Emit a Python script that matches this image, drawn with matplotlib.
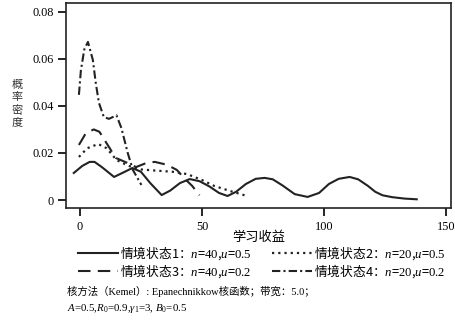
import matplotlib

matplotlib.use("Agg")
import matplotlib.pyplot as plt

plt.rcParams["font.family"] = ["Liberation Serif", "Noto Sans CJK SC"]
# mathtext: serif digits and Times-like italic variables
plt.rcParams["mathtext.fontset"] = "custom"
plt.rcParams["mathtext.rm"] = "Liberation Serif"
plt.rcParams["mathtext.it"] = "Liberation Serif:italic"
plt.rcParams["mathtext.bf"] = "Liberation Serif:bold"

# values (x = learning return, y = density)
s1_x = [-2.5, 1, 4, 6, 9, 14, 18, 21.5, 25, 29, 33.5, 37, 41, 45, 49, 53, 57, 60.5,
        64, 68, 72, 75.7, 79, 83, 88, 93.3, 98, 102, 106, 110.5, 114, 118, 121, 124,
        128, 133, 138]
s1_y = [0.0115, 0.0145, 0.0162, 0.0162, 0.0140, 0.0098, 0.0118, 0.0136, 0.0120,
        0.0070, 0.0021, 0.0040, 0.0072, 0.0089, 0.0080, 0.0058, 0.0030, 0.0017,
        0.0035, 0.0068, 0.0090, 0.0094, 0.0088, 0.0062, 0.0025, 0.0013, 0.0030,
        0.0068, 0.0090, 0.0098, 0.0088, 0.0060, 0.0035, 0.0020, 0.0012, 0.0006, 0.0003]

s2_x = [-0.4, 3, 7.5, 11, 15, 20, 25, 31, 38, 44, 50, 55, 61, 67.5]
s2_y = [0.0183, 0.0220, 0.0238, 0.0220, 0.0170, 0.0145, 0.0130, 0.0125, 0.0120,
        0.0110, 0.0085, 0.0060, 0.0040, 0.0020]

s3_x = [-0.4, 2.5, 5.7, 8, 10.6, 14.7, 19.6, 23, 27.4, 30.7, 35.6, 39.7, 43, 46, 49]
s3_y = [0.0234, 0.0285, 0.0300, 0.0290, 0.0247, 0.0179, 0.0157, 0.0140, 0.0158,
        0.0162, 0.0150, 0.0128, 0.0090, 0.0060, 0.0020]

s4_x = [-0.4, 0.4, 1.8, 3.3, 5.3, 6.5, 7.8, 9.8, 11.9, 15, 17, 19.6, 21.7, 25.2]
s4_y = [0.0447, 0.0550, 0.0640, 0.0672, 0.0596, 0.0498, 0.0413, 0.0353, 0.0345,
        0.0360, 0.0306, 0.0200, 0.0128, 0.0064]

state_n = ["40", "20", "40", "20"]
state_u = ["0.5", "0.5", "0.2", "0.2"]
labels = [
    f"情境状态{i + 1}：$n$=$\\mathrm{{{n}}}$,$u$=$\\mathrm{{{u}}}$"
    for i, (n, u) in enumerate(zip(state_n, state_u))
]
x_ticks = [0, 50, 100, 150]
y_ticks = [0, 0.02, 0.04, 0.06, 0.08]
y_ticklabels = ["0", "0.02", "0.04", "0.06", "0.08"]
y_title = "概率密度"

fig = plt.figure(figsize=(4.55, 3.2), dpi=100)
ax = fig.add_axes([0.145, 0.35, 0.846, 0.641])

(l1,) = ax.plot(s1_x, s1_y, color="#222222", lw=1.5, ls="-")
(l2,) = ax.plot(s2_x, s2_y, color="#222222", lw=1.6, ls=(0, (1, 1.8)))
(l3,) = ax.plot(s3_x, s3_y, color="#222222", lw=1.5, ls=(0, (6, 3.5)))
(l4,) = ax.plot(s4_x, s4_y, color="#222222", lw=1.5, ls=(0, (4, 1.5, 1, 1.5)))

ax.set_xlim(-5.7, 152)
ax.set_ylim(-0.0034, 0.0838)
ax.set_xticks(x_ticks)
ax.set_yticks(y_ticks)
ax.set_yticklabels(y_ticklabels)
ax.tick_params(direction="out", length=6, width=1.2, labelsize=8.8, pad=3)
for sp in ax.spines.values():
    sp.set_linewidth(1.2)
    sp.set_color("#222222")

ax.set_xlabel("学习收益", fontsize=9.5, labelpad=-1)
# stacked vertical y title, one glyph per row
for k, ch in enumerate(y_title):
    fig.text(0.038, 0.736 - k * 0.04, ch, fontsize=8, ha="center", va="center",
             color="#333333", family="Noto Sans CJK SC")

fig.legend([l1, l3, l2, l4], [labels[0], labels[2], labels[1], labels[3]],
           ncol=2, loc="upper left", bbox_to_anchor=(0.171, 0.236), frameon=False,
           prop={"family": "Noto Sans CJK SC", "size": 9.2},
           handlelength=3.15, handletextpad=0.15, columnspacing=1.6,
           labelspacing=0.0, borderpad=0, borderaxespad=0)

fig.text(0.147, 0.088, "核方法（Kemel）: Epanechnikkow核函数；带宽：5.0；",
         fontsize=7.5, va="center", ha="left")
fig.text(0.147, 0.036, "$A$=0.5,$R_0$=0.9,$\\gamma_1$=3, $B_0$=0.5",
         fontsize=7.8, va="center", ha="left")

fig.savefig("out.png", dpi=100)
